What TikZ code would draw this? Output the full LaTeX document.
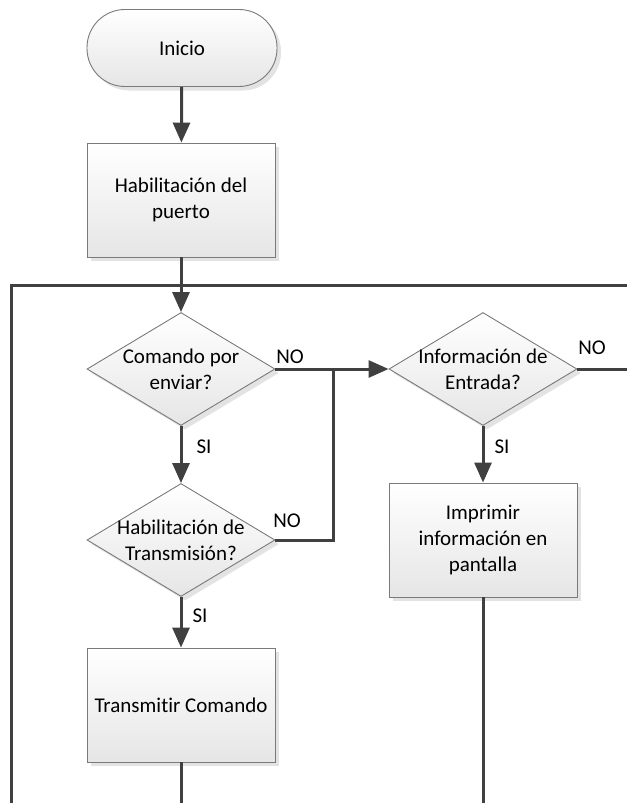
\documentclass[tikz,border=0pt]{standalone}
\usepackage{fontspec}
\setmainfont[Ligatures=NoCommon]{Carlito}
\usetikzlibrary{shapes.geometric,arrows.meta,shadows}
\definecolor{linegray}{HTML}{404040}
\definecolor{edgegray}{HTML}{7A7A7A}
\begin{document}
\begin{tikzpicture}[x=1pt,y=-1pt,
  every node/.style={font=\fontsize{21}{25.6}\selectfont},
  shapebase/.style={draw=edgegray, line width=0.9pt, shading=axis,
    top color=white, bottom color=black!10,
    drop shadow={shadow xshift=4pt, shadow yshift=-4pt, fill=black!11, opacity=1}},
  terminal/.style={shapebase, rectangle, rounded corners=38pt,
    minimum width=190pt, minimum height=77pt, inner sep=0pt},
  process/.style={shapebase, rectangle, minimum width=188pt,
    minimum height=114pt, inner sep=0pt, align=center},
  decision/.style={shapebase, diamond, minimum width=188pt,
    minimum height=113pt, inner sep=0pt},
  dtext/.style={align=center, inner sep=0pt},
  flow/.style={draw=linegray, line width=3pt},
  arrowflow/.style={flow, -{Triangle[width=17pt,length=20pt]}},
  tag/.style={inner sep=0pt}
]
\useasboundingbox (0,0) rectangle (627,803);

% shapes
\node[terminal] (inicio) at (182,48) {Inicio};
\node[process] (puerto) at (181,200) {Habilitación del\\puerto};
\node[decision] (cmd) at (181,369) {};
\node[dtext] (cmdtxt) at (cmd.center) {Comando por\\enviar?};
\node[decision] (info) at (483,369) {};
\node[dtext] (infotxt) at (info.center) {Información de\\Entrada?};
\node[decision] (hab) at (181,540) {};
\node[dtext] (habtxt) at (hab.center) {Habilitación de\\Transmisión?};
\node[process] (tx) at (181,705) {Transmitir Comando};
\node[process] (imp) at (483,540) {Imprimir\\información en\\pantalla};

% free ends of connectors
\coordinate (frameR) at (627,285);
\coordinate (frameL) at (11,285);
\coordinate (frameB) at (11,803);
\coordinate (join) at (333,369);
\coordinate (infoOut) at (627,369);
\coordinate (txEnd) at (181,803);
\coordinate (impEnd) at (483,803);

% connectors
\draw[flow] (frameR) -- (frameL) -- (frameB);
\draw[arrowflow] (inicio) -- (puerto);
\draw[arrowflow] (puerto) -- (cmd);
\draw[arrowflow] (cmd) -- (info);
\draw[flow] (hab.east) -| (join);
\draw[arrowflow] (cmd) -- (hab);
\draw[arrowflow] (hab) -- (tx);
\draw[flow] (tx) -- (txEnd);
\draw[arrowflow] (info) -- (imp);
\draw[flow] (imp) -- (impEnd);
\draw[flow] (info.east) -- (infoOut);

% branch labels
\node[tag] (no1) at (290,357) {NO};
\node[tag] (no2) at (592,348) {NO};
\node[tag] (no3) at (287,521) {NO};
\node[tag] (si1) at (204,447) {SI};
\node[tag] (si2) at (502,447) {SI};
\node[tag] (si3) at (200,616) {SI};
\end{tikzpicture}
\end{document}
